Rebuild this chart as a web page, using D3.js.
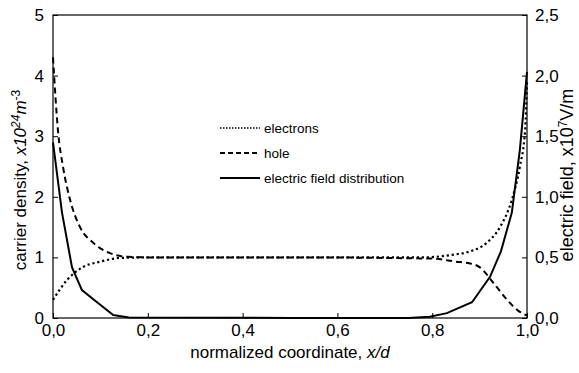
<!DOCTYPE html>
<html>
<head>
<meta charset="utf-8">
<script src="https://cdn.jsdelivr.net/npm/d3@7"></script>
<style>
  body { margin: 0; background: #fff; }
  text { font-family: "Liberation Sans", Arial, sans-serif; fill: #000; }
</style>
</head>
<body>
<script>
'use strict';

// carrier densities (x10^24 m^-3) against normalized coordinate x/d
const electronX = [0, 0.03, 0.063, 0.1, 0.14, 0.2, 0.5, 0.78, 0.84, 0.88, 0.915, 0.943, 0.968, 0.985, 0.996, 1.0];
const electronY = [0.3, 0.63, 0.84, 0.93, 0.99, 1.0, 1.0, 1.0, 1.04, 1.1, 1.24, 1.5, 1.95, 2.5, 3.1, 3.9];

const holeX = [0, 0.011, 0.021, 0.036, 0.057, 0.085, 0.12, 0.156, 0.2, 0.5, 0.8, 0.85, 0.88, 0.9, 0.93, 0.958, 0.985, 1.0];
const holeY = [4.3, 3.05, 2.5, 1.95, 1.5, 1.24, 1.07, 1.01, 1.0, 1.0, 0.98, 0.93, 0.9, 0.84, 0.57, 0.3, 0.1, 0.04];

// electric field (x10^7 V/m)
const fieldX = [0, 0.019, 0.04, 0.061, 0.093, 0.127, 0.16, 0.5, 0.75, 0.795, 0.831, 0.884, 0.922, 0.945, 0.968, 0.985, 1.0];
const fieldY = [1.45, 0.87, 0.42, 0.23, 0.13, 0.025, 0.005, 0, 0, 0.01, 0.04, 0.13, 0.34, 0.55, 0.87, 1.39, 2.03];

const xTicks = [0, 0.2, 0.4, 0.6, 0.8, 1.0];
const leftTicks = [0, 1, 2, 3, 4, 5];
const rightTicks = [0, 0.5, 1.0, 1.5, 2.0, 2.5];

const legendLabels = ['electrons', 'hole', 'electric field distribution'];

const width = 579, height = 373;
const margin = { left: 53, right: 52, top: 15, bottom: 55 };

const svg = d3.select('body').append('svg')
  .attr('width', width)
  .attr('height', height);

const x = d3.scaleLinear().domain([0, 1]).range([margin.left, width - margin.right]);
const yLeft = d3.scaleLinear().domain([0, 5]).range([height - margin.bottom, margin.top]);
const yRight = d3.scaleLinear().domain([0, 2.5]).range([height - margin.bottom, margin.top]);

const comma = d => d3.format('.1f')(d).replace('.', ',');

// frame
svg.append('rect')
  .attr('x', x(0)).attr('y', yLeft(5))
  .attr('width', x(1) - x(0)).attr('height', yLeft(0) - yLeft(5))
  .attr('fill', 'none').attr('stroke', '#000').attr('stroke-width', 1.2);

// bottom axis, ticks inward
const xAxis = svg.append('g')
  .attr('transform', `translate(0,${yLeft(0)})`)
  .call(d3.axisBottom(x).tickValues(xTicks).tickFormat(comma).tickSizeInner(-5).tickSizeOuter(0).tickPadding(6));

// left axis
const lAxis = svg.append('g')
  .attr('transform', `translate(${x(0)},0)`)
  .call(d3.axisLeft(yLeft).tickValues(leftTicks).tickFormat(d3.format('d')).tickSizeInner(-5).tickSizeOuter(0).tickPadding(9));

// right axis
const rAxis = svg.append('g')
  .attr('transform', `translate(${x(1)},0)`)
  .call(d3.axisRight(yRight).tickValues(rightTicks).tickFormat(comma).tickSizeInner(-5).tickSizeOuter(0).tickPadding(8));

[xAxis, lAxis, rAxis].forEach(g => {
  g.select('.domain').remove();
  g.selectAll('line').attr('stroke', '#000');
  g.selectAll('text').style('font-size', '17px').attr('fill', '#000')
    .style('font-family', '"Liberation Sans", Arial, sans-serif');
});

// curves
const toPts = (xs, ys) => xs.map((v, i) => [v, ys[i]]);

const lineL = d3.line().x(d => x(d[0])).y(d => yLeft(d[1])).curve(d3.curveMonotoneX);
const lineR = d3.line().x(d => x(d[0])).y(d => yRight(d[1]));

svg.append('path')
  .attr('d', lineL(toPts(electronX, electronY)))
  .attr('fill', 'none').attr('stroke', '#000').attr('stroke-width', 2.2)
  .attr('stroke-dasharray', '2.2,2.8');

svg.append('path')
  .attr('d', lineL(toPts(holeX, holeY)))
  .attr('fill', 'none').attr('stroke', '#000').attr('stroke-width', 2)
  .attr('stroke-dasharray', '6,4');

svg.append('path')
  .attr('d', lineR(toPts(fieldX, fieldY)))
  .attr('fill', 'none').attr('stroke', '#000').attr('stroke-width', 2);

// legend
const legend = svg.append('g');
legendLabels.forEach((label, i) => {
  const ly = 128 + i * 25;
  legend.append('line')
    .attr('x1', 220).attr('x2', 260).attr('y1', ly).attr('y2', ly)
    .attr('stroke', '#000').attr('stroke-width', i === 0 ? 1.3 : 2)
    .attr('stroke-dasharray', i === 0 ? '1.5,1.5' : i === 1 ? '5,3' : null);
  legend.append('text')
    .attr('x', 264).attr('y', ly + 5)
    .style('font-size', '13.5px')
    .text(label);
});

// x axis title
const xt = svg.append('text')
  .attr('x', 290).attr('y', 358)
  .attr('text-anchor', 'middle')
  .style('font-size', '17px');
xt.append('tspan').text('normalized coordinate, ');
xt.append('tspan').style('font-style', 'italic').text('x/d');

// left axis title
const lt = svg.append('text')
  .attr('transform', 'translate(26,180)rotate(-90)')
  .attr('text-anchor', 'middle')
  .style('font-size', '17px');
lt.append('tspan').text('carrier density, ');
lt.append('tspan').style('font-style', 'italic').text('x10');
lt.append('tspan').style('font-style', 'italic').style('font-size', '12px').attr('dy', -6).text('24');
lt.append('tspan').style('font-style', 'italic').attr('dy', 6).text('m');
lt.append('tspan').style('font-size', '12px').attr('dy', -6).text('-3');

// right axis title
const rt = svg.append('text')
  .attr('transform', 'translate(573,175)rotate(-90)')
  .attr('text-anchor', 'middle')
  .style('font-size', '18px');
rt.append('tspan').text('electric field, x10');
rt.append('tspan').style('font-size', '12px').attr('dy', -6).text('7');
rt.append('tspan').attr('dy', 6).text('V/m');
</script>
</body>
</html>
